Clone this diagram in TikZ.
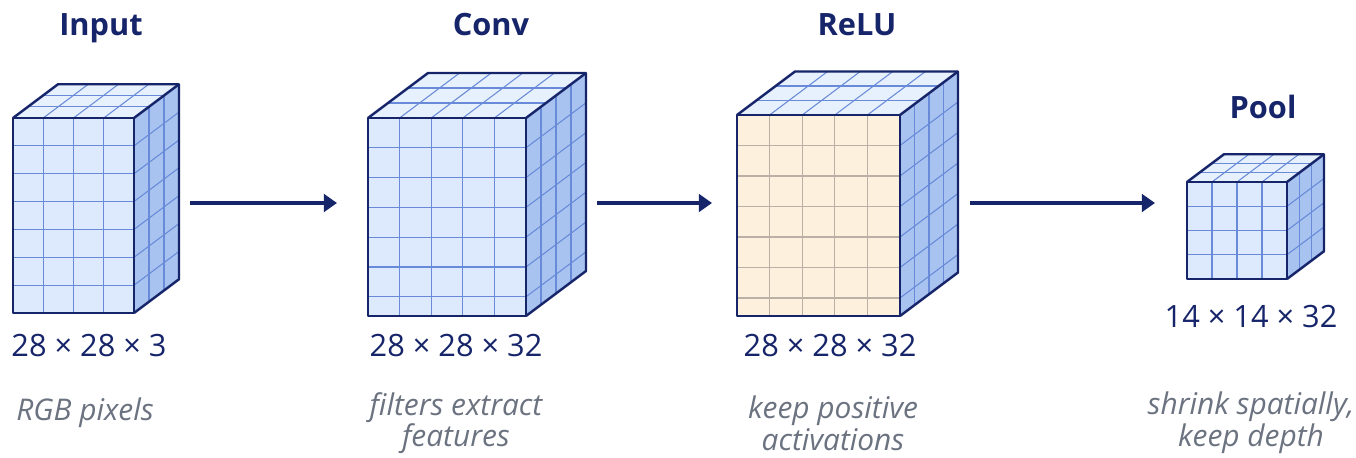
\documentclass[tikz,border=0pt]{standalone}
\usepackage{fontspec}
\setmainfont{Open Sans}
\usepackage{tikz}
\usetikzlibrary{arrows.meta,positioning,calc}

\definecolor{navy}{RGB}{22,36,106}
\definecolor{faceblue}{RGB}{221,233,252}
\definecolor{topblue}{RGB}{231,240,253}
\definecolor{sideblue}{RGB}{168,195,240}
\definecolor{gridblue}{RGB}{104,138,216}
\definecolor{facecream}{RGB}{253,241,221}
\definecolor{gridtan}{RGB}{186,176,166}
\definecolor{capgray}{RGB}{107,114,128}

\tikzset{
  edge/.style={draw=navy, line width=1.4pt, line join=round},
  frontface/.style={fill=faceblue},
  frontgrid/.style={draw=gridblue, line width=0.6pt},
  topface/.style={fill=topblue},
  sideface/.style={fill=sideblue},
  sidegrid/.style={draw=gridblue, line width=0.6pt},
  title/.style={font=\fontsize{17.5}{21}\selectfont\bfseries, text=navy, anchor=base},
  dims/.style={font=\fontsize{17.5}{21}\selectfont, text=navy, anchor=base},
  caption/.style={font=\fontsize{17}{18}\selectfont\itshape, text=capgray, align=center, inner sep=0pt},
  flow/.style={draw=navy, line width=2.2pt, -{Triangle[length=7.5pt,width=10pt]}}
}

% feature map: x0, y0 (front top-left), width, height, depth, columns, row step, side strips
\newcommand{\fmap}[8]{%
  \pgfmathsetmacro{\xa}{#1}\pgfmathsetmacro{\ya}{#2}
  \pgfmathsetmacro{\xb}{#1+#3}\pgfmathsetmacro{\yb}{#2+#4}
  \pgfmathsetmacro{\mdx}{#5}\pgfmathsetmacro{\mdy}{0.75*#5}
  \pgfmathtruncatemacro{\ncm}{#6-1}
  \pgfmathtruncatemacro{\nrow}{(#4-2)/#7}
  \pgfmathtruncatemacro{\nsm}{#8-1}
  % faces
  \fill[frontface] (\xa,\ya) rectangle (\xb,\yb);
  \fill[topface] (\xa,\ya) -- ({\xa+\mdx},{\ya-\mdy}) -- ({\xb+\mdx},{\ya-\mdy}) -- (\xb,\ya) -- cycle;
  \fill[sideface] (\xb,\ya) -- ({\xb+\mdx},{\ya-\mdy}) -- ({\xb+\mdx},{\yb-\mdy}) -- (\xb,\yb) -- cycle;
  % grid on the front
  \foreach \i in {1,...,\ncm}
    \draw[frontgrid] ({\xa+\i*#3/#6},\ya) -- ({\xa+\i*#3/#6},\yb);
  \foreach \j in {1,...,\nrow}
    \draw[frontgrid] (\xa,{\ya+\j*#7}) -- (\xb,{\ya+\j*#7});
  % grid on top
  \foreach \i in {1,...,\ncm}
    \draw[sidegrid] ({\xa+\i*#3/#6},\ya) -- ({\xa+\i*#3/#6+\mdx},{\ya-\mdy});
  \foreach \k in {1,2}
    \draw[sidegrid] ({\xa+\k*\mdx/3},{\ya-\k*\mdy/3}) -- ({\xb+\k*\mdx/3},{\ya-\k*\mdy/3});
  % grid on the side
  \foreach \k in {1,...,\nsm}
    \draw[sidegrid] ({\xb+\k*\mdx/#8},{\ya-\k*\mdy/#8}) -- ({\xb+\k*\mdx/#8},{\yb-\k*\mdy/#8});
  \foreach \j in {1,...,\nrow}
    \draw[sidegrid] (\xb,{\ya+\j*#7}) -- ({\xb+\mdx},{\ya+\j*#7-\mdy});
  % outline
  \draw[edge] (\xa,\ya) rectangle (\xb,\yb);
  \draw[edge] (\xa,\ya) -- ({\xa+\mdx},{\ya-\mdy}) -- ({\xb+\mdx},{\ya-\mdy})
    -- ({\xb+\mdx},{\yb-\mdy}) -- (\xb,\yb);
  \draw[edge] (\xb,\ya) -- ({\xb+\mdx},{\ya-\mdy});
}

\begin{document}
\begin{tikzpicture}[x=0.02cm, y=-0.02cm]
    \useasboundingbox (0,0) rectangle (1356,457);

    % Input
    \fmap{13}{118}{121}{195}{45}{4}{27.86}{3}
    \node[title] (tin) at (101,35) {Input};
    \node[dims] (din) at (89,356) {28 × 28 × 3};
    \node[caption] (cin) at (85,413) {RGB pixels};

    % Conv
    \fmap{368}{118}{158}{198}{60}{5}{29.8}{4}
    \node[title] (tconv) at (491,35) {Conv};
    \node[dims] (dconv) at (456,356) {28 × 28 × 32};
    \node[caption] (cconv) at (456,423) {filters extract\\features};

    % ReLU
    \begin{scope}[frontface/.style={fill=facecream}, frontgrid/.style={draw=gridtan, line width=0.6pt}]
        \fmap{737}{115}{163}{201}{58}{5}{30.5}{4}
    \end{scope}
    \node[title] (trelu) at (857,35) {ReLU};
    \node[dims] (drelu) at (830,356) {28 × 28 × 32};
    \node[caption] (crelu) at (833,423) {keep positive\\activations};

    % Pool
    \fmap{1187}{182}{100}{97}{37}{4}{24.25}{3}
    \node[title] (tpool) at (1263,118) {Pool};
    \node[dims] (dpool) at (1251,327) {14 × 14 × 32};
    \node[caption] (cpool) at (1251,423) {shrink spatially,\\keep depth};

    % arrows between stages
    \coordinate (a1) at (190,203);
    \coordinate (b1) at (337,203);
    \coordinate (a2) at (597,203);
    \coordinate (b2) at (712,203);
    \coordinate (a3) at (970,203);
    \coordinate (b3) at (1155,203);
    \draw[flow] (a1) -- (b1);
    \draw[flow] (a2) -- (b2);
    \draw[flow] (a3) -- (b3);
\end{tikzpicture}
\end{document}
